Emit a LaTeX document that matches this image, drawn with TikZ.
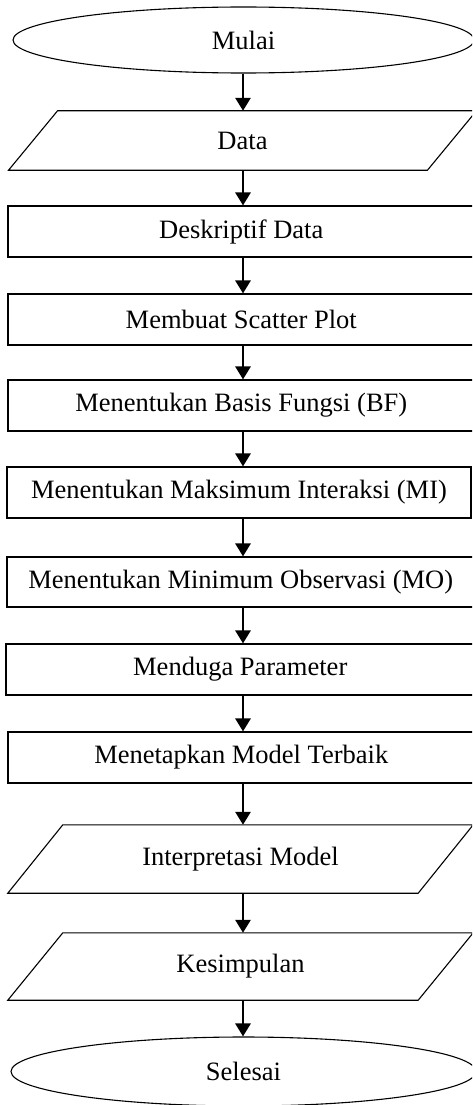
\documentclass[tikz,border=0pt]{standalone}
\usepackage{fontspec}
\setmainfont{Liberation Serif}
\usetikzlibrary{shapes.geometric,arrows.meta}
\tikzset{
  every node/.style={font=\fontsize{26.5}{30}\selectfont, inner sep=0pt},
  term/.style={ellipse, draw, line width=1.1pt},
  procbox/.style={rectangle, draw, line width=1.1pt},
  iobox/.style={rectangle, draw=none},
  iodraw/.style={line width=1.1pt},
  arr/.style={line width=2.8pt, -{Triangle[length=13pt,width=15pt]}, shorten >=0pt}
}
\begin{document}
\begin{tikzpicture}[x=1pt,y=-1pt]
\useasboundingbox (0,0) rectangle (472,1105);
\clip (0,0) rectangle (472,1105);
\coordinate (col) at (243,0);
% nodes
\node[term, minimum width=461pt, minimum height=66pt] (mulai) at (243.5,40) {Mulai};
\node[iobox, minimum width=418.5pt, minimum height=59pt] (data) at (242.5,140.5) {Data};
\node[procbox, minimum width=466.5pt, minimum height=51pt] (desk) at (241.25,231.5) {Deskriptif Data};
\node[procbox, minimum width=466.5pt, minimum height=51pt] (scat) at (241.25,319.5) {Membuat Scatter Plot};
\node[procbox, minimum width=466.5pt, minimum height=51pt] (bf) at (241.25,405.5) {Menentukan Basis Fungsi (BF)};
\node[procbox, minimum width=464pt, minimum height=51pt] (mi) at (239,492.5) {Menentukan Maksimum Interaksi (MI)};
\node[procbox, minimum width=467.5pt, minimum height=50pt] (mo) at (240.75,582) {Menentukan Minimum Observasi (MO)};
\node[procbox, minimum width=468.5pt, minimum height=51pt] (par) at (240.25,669.5) {Menduga Parameter};
\node[procbox, minimum width=466.5pt, minimum height=51pt] (best) at (241.25,757.5) {Menetapkan Model Terbaik};
\node[iobox, minimum width=410pt, minimum height=68pt] (interp) at (240.5,859) {Interpretasi Model};
\node[iobox, minimum width=410pt, minimum height=67pt] (kes) at (240.5,966.5) {Kesimpulan};
\node[term, minimum width=465pt, minimum height=69pt] (sel) at (243.5,1071.5) {Selesai};
% parallelograms
\draw[iodraw] ([xshift=24.5pt]data.north west) -- ([xshift=24.5pt]data.north east)
  -- ([xshift=-24.5pt]data.south east) -- ([xshift=-24.5pt]data.south west) -- cycle;
\draw[iodraw] ([xshift=27.5pt]interp.north west) -- ([xshift=27.5pt]interp.north east)
  -- ([xshift=-27.5pt]interp.south east) -- ([xshift=-27.5pt]interp.south west) -- cycle;
\draw[iodraw] ([xshift=27.5pt]kes.north west) -- ([xshift=27.5pt]kes.north east)
  -- ([xshift=-27.5pt]kes.south east) -- ([xshift=-27.5pt]kes.south west) -- cycle;
% connectors
\draw[arr] (mulai.south -| col) -- (data.north -| col);
\draw[arr] (data.south -| col) -- (desk.north -| col);
\draw[arr] (desk.south -| col) -- (scat.north -| col);
\draw[arr] (scat.south -| col) -- (bf.north -| col);
\draw[arr] (bf.south -| col) -- (mi.north -| col);
\draw[arr] (mi.south -| col) -- (mo.north -| col);
\draw[arr] (mo.south -| col) -- (par.north -| col);
\draw[arr] (par.south -| col) -- (best.north -| col);
\draw[arr] (best.south -| col) -- (interp.north -| col);
\draw[arr] (interp.south -| col) -- (kes.north -| col);
\draw[arr] (kes.south -| col) -- (sel.north -| col);
\end{tikzpicture}
\end{document}
